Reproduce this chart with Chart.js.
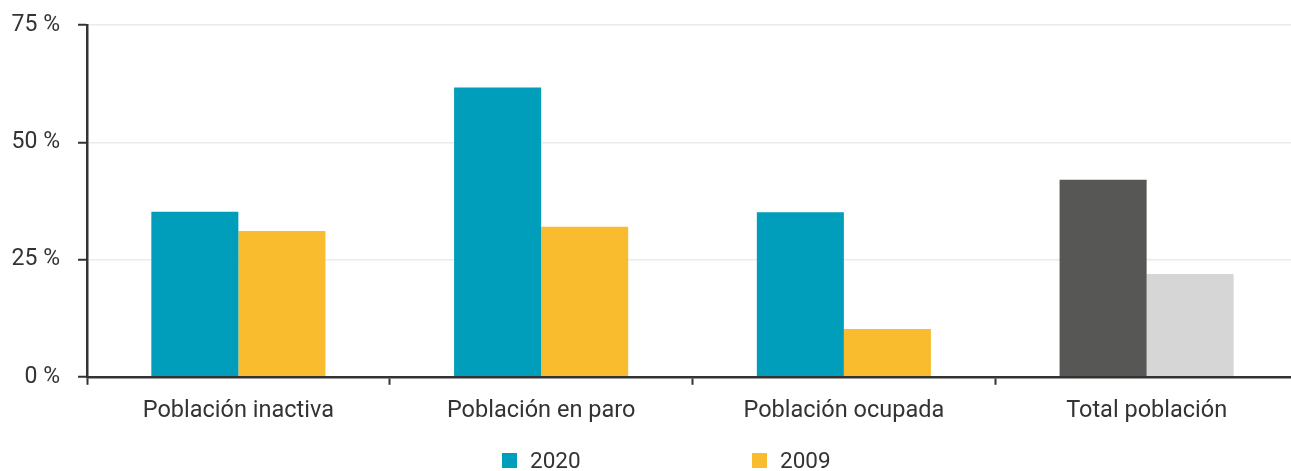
<!DOCTYPE html>
<html lang="es">
<head>
<meta charset="utf-8">
<script src="https://cdn.jsdelivr.net/npm/chart.js@4/dist/chart.umd.min.js"></script>
<style>
  html, body { margin: 0; padding: 0; background: #fff; overflow: hidden; }
  #wrap { position: relative; width: 1291px; height: 471px; overflow: hidden; }
  #legend { position: absolute; left: 0; top: 450px; width: 1291px; height: 20px;
    font-family: Roboto, sans-serif; font-size: 22.5px; color: #333; }
  #legend .item { position: absolute; top: 0; display: flex; align-items: center; height: 20px; }
  #legend .box { width: 15px; height: 15px; margin-right: 13px; }
</style>
</head>
<body>
<div id="wrap">
  <!-- the plot runs a few px past the right edge, as in the reference -->
  <canvas id="chart" width="1298" height="471"></canvas>
  <div id="legend"></div>
</div>
<script>
(() => {
  // data
  const categories = ['Población inactiva', 'Población en paro', 'Población ocupada', 'Total población'];
  const values2020 = [35.2, 61.7, 35.1, 42.0];
  const values2009 = [31.1, 32.0, 10.2, 21.9];
  const yTicks = [0, 25, 50, 75];
  const seriesNames = ['2020', '2009'];

  // last category (total) is drawn in greys
  const colors2020 = ['#009EBB', '#009EBB', '#009EBB', '#575756'];
  const colors2009 = ['#F9BC2F', '#F9BC2F', '#F9BC2F', '#D6D6D6'];

  const textColor = '#333333';
  const axisColor = '#333333';
  Chart.defaults.font.family = 'Roboto, sans-serif';
  Chart.defaults.color = textColor;

  const ctx = document.getElementById('chart').getContext('2d');
  const chart = new Chart(ctx, {
    type: 'bar',
    data: {
      labels: categories,
      datasets: [
        { label: seriesNames[0], data: values2020, backgroundColor: colors2020, legendColor: colors2020[0] },
        { label: seriesNames[1], data: values2009, backgroundColor: colors2009, legendColor: colors2009[0] }
      ]
    },
    options: {
      responsive: false,
      animation: false,
      layout: { padding: { top: 25, right: 0, bottom: 34, left: 0 } },
      datasets: { bar: { categoryPercentage: 0.575, barPercentage: 1, borderWidth: 0 } },
      scales: {
        x: {
          grid: { offset: true, drawOnChartArea: false, drawTicks: true, tickLength: 8, tickColor: axisColor, tickWidth: 2 },
          border: { color: axisColor, width: 2.5 },
          ticks: { font: { size: 23.5 }, color: textColor, padding: 12 }
        },
        y: {
          min: 0,
          max: 75,
          afterBuildTicks: (scale) => { scale.ticks = yTicks.map(v => ({ value: v })); },
          afterFit: (scale) => { scale.width = 87; scale.paddingTop = 0; },
          grid: { color: '#ebebeb', lineWidth: 1.5, tickLength: 9, tickColor: axisColor, tickWidth: 2 },
          border: { color: axisColor, width: 2.5 },
          ticks: { font: { size: 23 }, color: textColor, padding: 18, callback: v => v + ' %' }
        }
      },
      plugins: {
        legend: { display: false },
        tooltip: { enabled: false }
      }
    }
  });

  // HTML legend built from the datasets
  const legendEl = document.getElementById('legend');
  const legendX = [502, 752];
  chart.data.datasets.forEach((ds, i) => {
    const item = document.createElement('div');
    item.className = 'item';
    item.style.left = legendX[i] + 'px';
    const box = document.createElement('span');
    box.className = 'box';
    box.style.background = ds.legendColor;
    const txt = document.createElement('span');
    txt.textContent = ds.label;
    item.appendChild(box);
    item.appendChild(txt);
    legendEl.appendChild(item);
  });
})();
</script>
</body>
</html>
